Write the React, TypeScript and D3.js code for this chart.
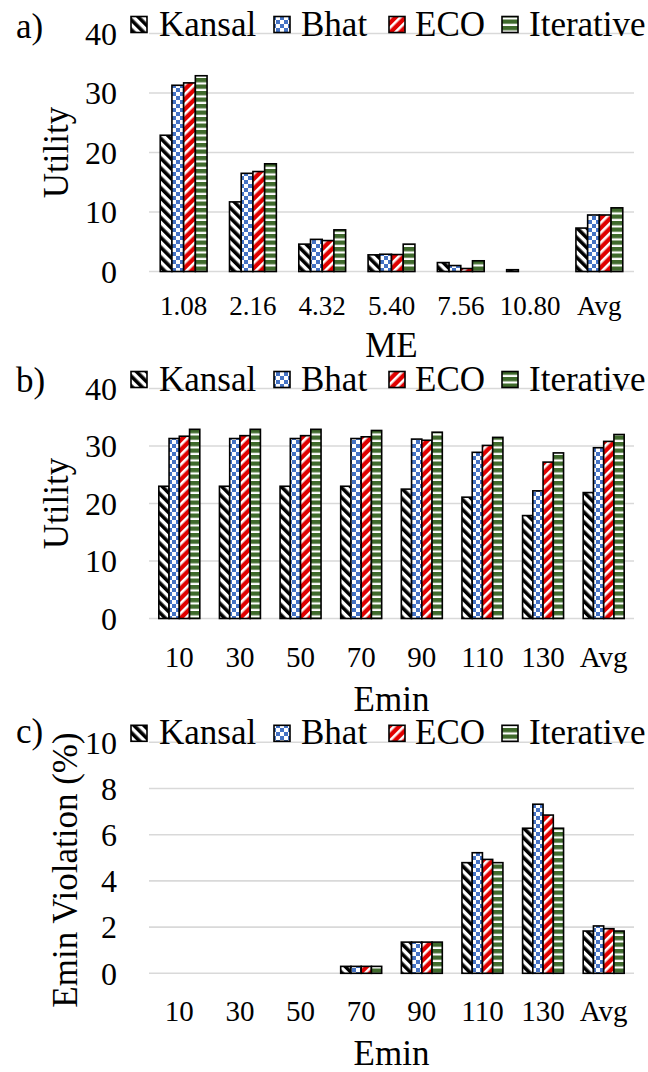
import React from "react";
import * as d3 from "d3";

const seriesNames = ["Kansal", "Bhat", "ECO", "Iterative"];

const meCategories = ["1.08", "2.16", "4.32", "5.40", "7.56", "10.80", "Avg"];
const meKansal = [22.9, 11.7, 4.6, 2.8, 1.5, 0.3, 7.3];
const meBhat = [31.3, 16.5, 5.4, 2.9, 1.0, 0, 9.5];
const meEco = [31.7, 16.8, 5.2, 2.85, 0.5, 0, 9.5];
const meIterative = [32.9, 18.1, 7.0, 4.6, 1.8, 0, 10.7];

const eminCategories = ["10", "30", "50", "70", "90", "110", "130", "Avg"];
const eminUtilKansal = [23.0, 23.0, 23.0, 23.0, 22.5, 21.1, 17.9, 21.9];
const eminUtilBhat = [31.3, 31.3, 31.3, 31.3, 31.2, 28.9, 22.2, 29.7];
const eminUtilEco = [31.7, 31.8, 31.8, 31.6, 31.0, 30.1, 27.2, 30.8];
const eminUtilIterative = [32.9, 32.9, 32.9, 32.7, 32.4, 31.5, 28.8, 32.0];

const violKansal = [0, 0, 0, 0.3, 1.35, 4.79, 6.28, 1.83];
const violBhat = [0, 0, 0, 0.3, 1.35, 5.22, 7.32, 2.05];
const violEco = [0, 0, 0, 0.3, 1.35, 4.93, 6.85, 1.93];
const violIterative = [0, 0, 0, 0.3, 1.35, 4.79, 6.28, 1.83];

const utilityTicks = [0, 10, 20, 30, 40];
const violationTicks = [0, 2, 4, 6, 8, 10];

const FONT = "Liberation Serif, DejaVu Serif, serif";
const patternIds = ["patKansal", "patBhat", "patEco", "patIter"];

type Panel = {
  label: string;
  labelY: number;
  categories: string[];
  series: number[][];
  yMax: number;
  ticks: number[];
  top: number;
  bottom: number;
  xTickSize: number;
  xTickBaseline: number;
  xTitle: string;
  xTitleBaseline: number;
  yTitle: string;
  yTitleCenter: number;
  yTitleX: number;
};

const panels: Panel[] = [
  {
    label: "a)", labelY: 38, categories: meCategories,
    series: [meKansal, meBhat, meEco, meIterative], yMax: 40, ticks: utilityTicks,
    top: 33.5, bottom: 271.5, xTickSize: 27, xTickBaseline: 315,
    xTitle: "ME", xTitleBaseline: 357, yTitle: "Utility", yTitleCenter: 152.5, yTitleX: 68,
  },
  {
    label: "b)", labelY: 392, categories: eminCategories,
    series: [eminUtilKansal, eminUtilBhat, eminUtilEco, eminUtilIterative], yMax: 40, ticks: utilityTicks,
    top: 388.5, bottom: 618.5, xTickSize: 29, xTickBaseline: 667,
    xTitle: "Emin", xTitleBaseline: 711, yTitle: "Utility", yTitleCenter: 503.5, yTitleX: 68,
  },
  {
    label: "c)", labelY: 743, categories: eminCategories,
    series: [violKansal, violBhat, violEco, violIterative], yMax: 10, ticks: violationTicks,
    top: 742.3, bottom: 973.3, xTickSize: 29, xTickBaseline: 1021,
    xTitle: "Emin", xTitleBaseline: 1065, yTitle: "Emin Violation (%)", yTitleCenter: 870, yTitleX: 77,
  },
];

const legendSwatchX = [131, 274, 389, 502];
const legendTextX = [159, 301, 415, 529];

const PLOT_LEFT = 149;
const PLOT_RIGHT = 634;

function PanelView({ p }: { p: Panel }) {
  const x0 = d3.scaleBand<string>().domain(p.categories).range([PLOT_LEFT, PLOT_RIGHT]).paddingInner(0.324).paddingOuter(0.162);
  const x1 = d3.scaleBand<string>().domain(seriesNames).range([0, x0.bandwidth()]);
  const y = d3.scaleLinear().domain([0, p.yMax]).range([p.bottom, p.top]);
  const legendBaseline = p.top + 2;
  const ts = { fontFamily: FONT };
  return (
    <g>
      <text x={16} y={p.labelY} fontSize={35} style={ts}>{p.label}</text>
      {p.ticks.map((t) => (
        <g key={t}>
          <line x1={PLOT_LEFT} x2={PLOT_RIGHT} y1={y(t)} y2={y(t)} stroke="#d9d9d9" strokeWidth={1.6} />
          <text x={117} y={y(t)} dy="0.35em" textAnchor="end" fontSize={32} style={ts}>{t}</text>
        </g>
      ))}
      {p.categories.map((c, ci) => (
        <g key={c}>
          {p.series.map((s, si) => {
            const v = s[ci];
            if (!v) return null;
            return (
              <rect key={si} x={(x0(c) as number) + (x1(seriesNames[si]) as number)} y={y(v)}
                width={x1.bandwidth()} height={p.bottom - y(v)}
                fill={`url(#${patternIds[si]})`} stroke="#000" strokeWidth={1.6} />
            );
          })}
          <text x={(x0(c) as number) + x0.bandwidth() / 2} y={p.xTickBaseline} textAnchor="middle"
            fontSize={p.xTickSize} style={ts}>{c}</text>
        </g>
      ))}
      <text x={(PLOT_LEFT + PLOT_RIGHT) / 2} y={p.xTitleBaseline} textAnchor="middle" fontSize={35} style={ts}>{p.xTitle}</text>
      <text transform={`translate(${p.yTitleX},${p.yTitleCenter}) rotate(-90)`} textAnchor="middle" fontSize={35} style={ts}>{p.yTitle}</text>
      {seriesNames.map((n, i) => (
        <g key={n}>
          <rect x={legendSwatchX[i]} y={legendBaseline - 19} width={16} height={16}
            fill={`url(#${patternIds[i]})`} stroke="#000" strokeWidth={1.6} />
          <text x={legendTextX[i]} y={legendBaseline} fontSize={35} style={ts}>{n}</text>
        </g>
      ))}
    </g>
  );
}

export default function App() {
  return (
    <div style={{ position: "absolute", left: 0, top: 0 }}>
      <svg width={648} height={1072} style={{ display: "block", background: "#fff" }}>
        <defs>
          <pattern id="patKansal" patternUnits="userSpaceOnUse" width={7} height={7} patternTransform="rotate(-45)">
            <rect width={7} height={7} fill="#fff" />
            <rect width={3.6} height={7} fill="#000" />
          </pattern>
          <pattern id="patBhat" patternUnits="userSpaceOnUse" width={8} height={8}>
            <rect width={8} height={8} fill="#fff" />
            <rect width={4} height={4} fill="#4472C4" />
            <rect x={4} y={4} width={4} height={4} fill="#4472C4" />
          </pattern>
          <pattern id="patEco" patternUnits="userSpaceOnUse" width={7} height={7} patternTransform="rotate(45)">
            <rect width={7} height={7} fill="#E00000" />
            <rect width={2.6} height={7} fill="#fff" />
          </pattern>
          <pattern id="patIter" patternUnits="userSpaceOnUse" width={6.5} height={6.5}>
            <rect width={6.5} height={6.5} fill="#3F6A2C" />
            <rect y={4.3} width={6.5} height={2.2} fill="#fff" />
          </pattern>
        </defs>
        {panels.map((p) => <PanelView key={p.label} p={p} />)}
      </svg>
    </div>
  );
}
